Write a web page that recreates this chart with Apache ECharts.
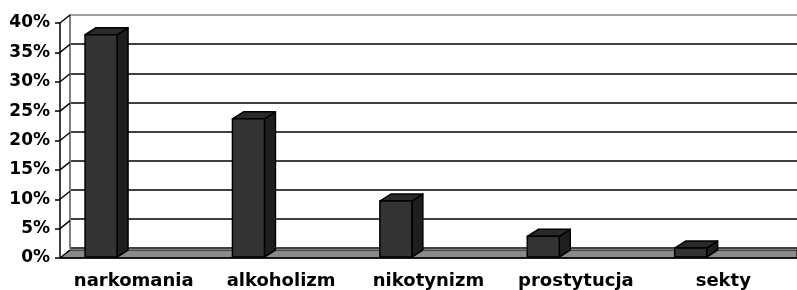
<!DOCTYPE html>
<html>
<head>
<meta charset="utf-8">
<script src="https://cdn.jsdelivr.net/npm/echarts@6/dist/echarts.min.js"></script>
<style>html,body{margin:0;padding:0;background:#fff}#main{width:797px;height:290px}</style>
</head>
<body>
<div id="main"></div>
<script>
var categories = ['narkomania', 'alkoholizm', 'nikotynizm', 'prostytucja', 'sekty'];
var values = [38, 23.7, 9.7, 3.7, 1.7];
var yTicks = [0, 5, 10, 15, 20, 25, 30, 35, 40];

var DX = 10, DY = -8; // przesunięcie tylnej ściany
var BX = 11, BY = -7; // głębokość słupka
var font = 'DejaVu Sans';

var myChart = echarts.init(document.getElementById('main'));

option = {
    animation: false,
    grid: [
        {left: 60, right: 0, top: 23, bottom: 32},  // płaszczyzna przednia
        {left: 70, right: 0, top: 15, bottom: 42}   // tylna ściana
    ],
    xAxis: [
        {
            type: 'category', gridIndex: 0, data: categories, z: 10,
            axisLine: {lineStyle: {color: '#000', width: 1.5}},
            axisTick: {length: 5, lineStyle: {color: '#000', width: 1.5}},
            axisLabel: {interval: 0, color: '#000', fontFamily: font, fontWeight: 'bold', fontSize: 18, margin: 14}
        },
        {type: 'category', gridIndex: 1, data: categories, show: false}
    ],
    yAxis: [
        {
            type: 'value', gridIndex: 0, min: 0, max: 40, interval: 5, z: 10,
            axisLine: {show: true, lineStyle: {color: '#000', width: 1.5}},
            axisTick: {show: true, length: 5, lineStyle: {color: '#000', width: 1.5}},
            splitLine: {show: false},
            axisLabel: {formatter: '{value}%', color: '#000', fontFamily: font, fontWeight: 'bold', fontSize: 17, margin: 10}
        },
        {
            type: 'value', gridIndex: 1, min: 0, max: 40, interval: 5,
            axisLine: {show: true, lineStyle: {color: '#808080', width: 2}},
            axisTick: {show: false},
            axisLabel: {show: false},
            splitLine: {lineStyle: {color: ['#000', '#000', '#000', '#000', '#000', '#000', '#000', '#000', '#808080'], width: 1.5}}
        }
    ],
    series: [
        {
            // podłoga
            type: 'custom', xAxisIndex: 0, yAxisIndex: 0, z: 1,
            data: [[0, 0]],
            renderItem: function (params, api) {
                var cs = params.coordSys;
                var b = cs.y + cs.height;
                return {
                    type: 'polygon',
                    shape: {points: [[cs.x, b], [cs.x + cs.width, b], [cs.x + cs.width, b + DY], [cs.x + DX, b + DY]]},
                    style: {fill: '#8a8a8a', stroke: '#000', lineWidth: 1}
                };
            }
        },
        {
            // ukośne kreski przy osi Y
            type: 'custom', xAxisIndex: 0, yAxisIndex: 0, z: 3,
            data: yTicks.map(function (v) { return [0, v]; }),
            renderItem: function (params, api) {
                var cs = params.coordSys;
                var p = api.coord([0, api.value(1)]);
                return {
                    type: 'line',
                    shape: {x1: cs.x, y1: p[1], x2: cs.x + DX, y2: p[1] + DY},
                    style: {stroke: '#000', lineWidth: 1.5}
                };
            }
        },
        {
            // słupki 3D
            type: 'custom', xAxisIndex: 0, yAxisIndex: 0, z: 5,
            data: values.map(function (v, i) { return [i, v]; }),
            encode: {x: 0, y: 1},
            renderItem: function (params, api) {
                var c = api.coord([api.value(0), api.value(1)]);
                var base = api.coord([api.value(0), 0]);
                var band = api.size([1, 0])[0];
                var x0 = c[0] - band / 2 + band * 0.17;
                var w = band * 0.217;
                var top = c[1], bot = base[1] - 1;
                var st = {stroke: '#000', lineWidth: 1.5, lineJoin: 'round'};
                return {
                    type: 'group',
                    children: [
                        {type: 'polygon', shape: {points: [[x0 + w, bot], [x0 + w + BX, bot + BY], [x0 + w + BX, top + BY], [x0 + w, top]]},
                            style: Object.assign({fill: '#1e1e1e'}, st)},
                        {type: 'polygon', shape: {points: [[x0, top], [x0 + w, top], [x0 + w + BX, top + BY], [x0 + BX, top + BY]]},
                            style: Object.assign({fill: '#2a2a2a'}, st)},
                        {type: 'rect', shape: {x: x0, y: top, width: w, height: bot - top},
                            style: Object.assign({fill: '#333333'}, st)}
                    ]
                };
            }
        }
    ]
};

myChart.setOption(option);
</script>
</body>
</html>
